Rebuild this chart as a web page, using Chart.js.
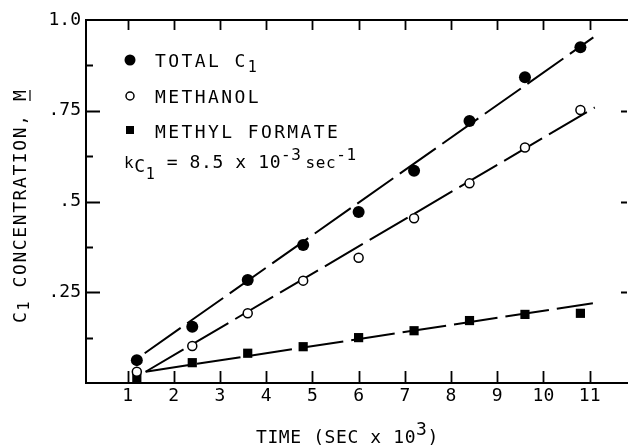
<!DOCTYPE html>
<html>
<head>
<meta charset="utf-8">
<script src="https://cdn.jsdelivr.net/npm/chart.js@4.4.0/dist/chart.umd.min.js"></script>
<style>
  html, body { margin: 0; padding: 0; background: #fff; overflow: hidden; }
  #wrap { width: 628px; height: 446px; }
</style>
</head>
<body>
<div id="wrap"><canvas id="conc-chart"></canvas></div>
<script>
  "use strict";

  // data (time in sec x 10^3, concentration in M)
  const times = [1.2, 2.4, 3.6, 4.8, 6.0, 7.2, 8.4, 9.6, 10.8];
  const totalC1 = [0.063, 0.155, 0.284, 0.38, 0.471, 0.585, 0.722, 0.842, 0.925];
  const methanol = [0.031, 0.102, 0.192, 0.282, 0.345, 0.454, 0.55, 0.649, 0.752];
  const methylFormate = [0.013, 0.056, 0.082, 0.1, 0.125, 0.144, 0.172, 0.189, 0.192];

  // fitted lines, end points [x0, y0, x1, y1]
  const totalFit = [1.37, 0.082, 11.08, 0.952];
  const methanolFit = [1.39, 0.031, 11.11, 0.759];
  const formateFit = [1.39, 0.031, 11.07, 0.22];

  const xTicks = [1, 2, 3, 4, 5, 6, 7, 8, 9, 10, 11];
  const yTicks = [0.25, 0.5, 0.75, 1.0];
  const yTickLabels = [".25", ".5", ".75", "1.0"];
  const yMinorTicks = [0.125, 0.375, 0.625, 0.875];

  const FONT = "'DejaVu Sans Mono', monospace";

  function pts(xs, ys) {
    return xs.map(function (x, i) { return { x: x, y: ys[i] }; });
  }
  function fitPts(f) {
    return [{ x: f[0], y: f[1] }, { x: f[2], y: f[3] }];
  }

  // draws text pieces one after another, each with its own size / offset
  function drawRich(ctx, x, y, parts) {
    parts.forEach(function (p) {
      ctx.font = (p.size || 18) + "px " + FONT;
      ctx.fillText(p.t, x, y + (p.dy || 0));
      x += ctx.measureText(p.t).width + (p.gap || 0);
    });
    return x;
  }

  const decorations = {
    id: "decorations",
    afterDraw: function (chart) {
      const ctx = chart.ctx;
      const area = chart.chartArea;
      const xs = chart.scales.x;
      const ys = chart.scales.y;
      ctx.save();
      ctx.strokeStyle = "#000";
      ctx.fillStyle = "#000";

      // top frame line
      ctx.lineWidth = 2;
      ctx.beginPath();
      ctx.moveTo(area.left, area.top);
      ctx.lineTo(area.right, area.top);
      ctx.stroke();

      // inward ticks
      ctx.lineWidth = 1.8;
      ctx.beginPath();
      xTicks.forEach(function (v) {
        const px = Math.round(xs.getPixelForValue(v)) + 0.5;
        ctx.moveTo(px, area.bottom);
        ctx.lineTo(px, area.bottom - 12);
        ctx.moveTo(px, area.top);
        ctx.lineTo(px, area.top + 10);
      });
      yTicks.slice(0, 3).forEach(function (v) {
        const py = Math.round(ys.getPixelForValue(v)) + 0.5;
        ctx.moveTo(area.left, py);
        ctx.lineTo(area.left + 14, py);
        ctx.moveTo(area.right - 1, py);
        ctx.lineTo(area.right - 7, py);
      });
      yMinorTicks.forEach(function (v) {
        const py = Math.round(ys.getPixelForValue(v)) + 0.5;
        ctx.moveTo(area.left, py);
        ctx.lineTo(area.left + 7, py);
      });
      ctx.stroke();

      // legend
      ctx.lineWidth = 1.5;
      ctx.beginPath();
      ctx.arc(130, 60, 5.5, 0, Math.PI * 2);
      ctx.fill();
      ctx.beginPath();
      ctx.arc(130, 96, 4, 0, Math.PI * 2);
      ctx.stroke();
      ctx.fillRect(126, 126, 8, 8);

      ctx.textAlign = "left";
      ctx.textBaseline = "alphabetic";
      ctx.letterSpacing = "2.4px";
      drawRich(ctx, 155, 67, [{ t: "TOTAL C" }, { t: "1", size: 15, dy: 5 }]);
      drawRich(ctx, 155, 103, [{ t: "METHANOL" }]);
      drawRich(ctx, 155, 138, [{ t: "METHYL FORMATE" }]);

      ctx.letterSpacing = "0.6px";
      drawRich(ctx, 124, 168, [
        { t: "k", size: 16 },
        { t: "C", size: 18, dy: 4 },
        { t: "1", size: 15, dy: 11 },
        { t: " = 8.5 x 10" },
        { t: "-3", size: 16, dy: -8, gap: 4 },
        { t: "sec", size: 16 },
        { t: "-1", size: 16, dy: -8 }
      ]);

      // x axis title
      drawRich(ctx, 256, 443, [
        { t: "TIME (SEC x 10" },
        { t: "3", size: 18, dy: -8 },
        { t: ")" }
      ]);

      // y axis title, rotated
      ctx.translate(26, 0);
      ctx.rotate(-Math.PI / 2);
      ctx.letterSpacing = "1.6px";
      const cx = drawRich(ctx, -323, 0, [
        { t: "C" },
        { t: "1", size: 15, dy: 3 },
        { t: " CONCENTRATION, " }
      ]);
      ctx.font = "18px " + FONT;
      ctx.fillText("M", cx, 0);
      const mw = ctx.measureText("M").width;
      ctx.lineWidth = 1.2;
      ctx.beginPath();
      ctx.moveTo(cx, 4);
      ctx.lineTo(cx + mw - 1.5, 4);
      ctx.stroke();

      ctx.restore();
    }
  };

  const ctx = document.getElementById("conc-chart").getContext("2d");
  const concChart = new Chart(ctx, {
    type: "scatter",
    data: {
      datasets: [
        {
          label: "Total C1",
          data: pts(times, totalC1),
          pointStyle: "circle",
          pointRadius: 6,
          backgroundColor: "#000",
          borderColor: "#000",
          borderWidth: 0,
          order: 1
        },
        {
          label: "Methanol",
          data: pts(times, methanol),
          pointStyle: "circle",
          pointRadius: 4.5,
          backgroundColor: "#fff",
          borderColor: "#000",
          borderWidth: 1.5,
          order: 1
        },
        {
          label: "Methyl formate",
          data: pts(times, methylFormate),
          pointStyle: "rect",
          pointRadius: 6.5,
          backgroundColor: "#000",
          borderColor: "#000",
          borderWidth: 0,
          order: 1
        },
        {
          type: "line",
          data: fitPts(totalFit),
          borderColor: "#000",
          borderWidth: 2,
          borderDash: [44, 8],
          pointRadius: 0,
          order: 2
        },
        {
          type: "line",
          data: fitPts(methanolFit),
          borderColor: "#000",
          borderWidth: 2,
          borderDash: [44, 8],
          pointRadius: 0,
          order: 2
        },
        {
          type: "line",
          data: fitPts(formateFit),
          borderColor: "#000",
          borderWidth: 2,
          borderDash: [44, 8],
          pointRadius: 0,
          order: 2
        }
      ]
    },
    options: {
      responsive: true,
      maintainAspectRatio: false,
      animation: false,
      events: [],
      layout: {
        autoPadding: false,
        padding: { top: 20, right: 0, left: 0, bottom: 0 }
      },
      plugins: {
        legend: { display: false },
        tooltip: { enabled: false }
      },
      scales: {
        x: {
          type: "linear",
          min: 0.1,
          max: 11.83,
          afterBuildTicks: function (scale) {
            scale.ticks = xTicks.map(function (v) { return { value: v }; });
          },
          afterFit: function (scale) {
            scale.height = 63;
            scale.paddingLeft = 0;
            scale.paddingRight = 0;
          },
          grid: { drawOnChartArea: false, drawTicks: false },
          border: { display: true, color: "#000", width: 2 },
          ticks: {
            color: "#000",
            font: { family: FONT, size: 18 },
            padding: 3,
            maxRotation: 0,
            autoSkip: false
          }
        },
        y: {
          type: "linear",
          min: 0,
          max: 1.0,
          afterBuildTicks: function (scale) {
            scale.ticks = yTicks.map(function (v) { return { value: v }; });
          },
          afterFit: function (scale) {
            scale.width = 86;
            scale.paddingTop = 0;
            scale.paddingBottom = 0;
          },
          grid: { drawOnChartArea: false, drawTicks: false },
          border: { display: true, color: "#000", width: 2 },
          ticks: {
            color: "#000",
            font: { family: FONT, size: 18 },
            padding: 5,
            autoSkip: false,
            callback: function (value) {
              const i = yTicks.indexOf(value);
              return i >= 0 ? yTickLabels[i] : "";
            }
          }
        }
      }
    },
    plugins: [decorations]
  });
</script>
</body>
</html>
